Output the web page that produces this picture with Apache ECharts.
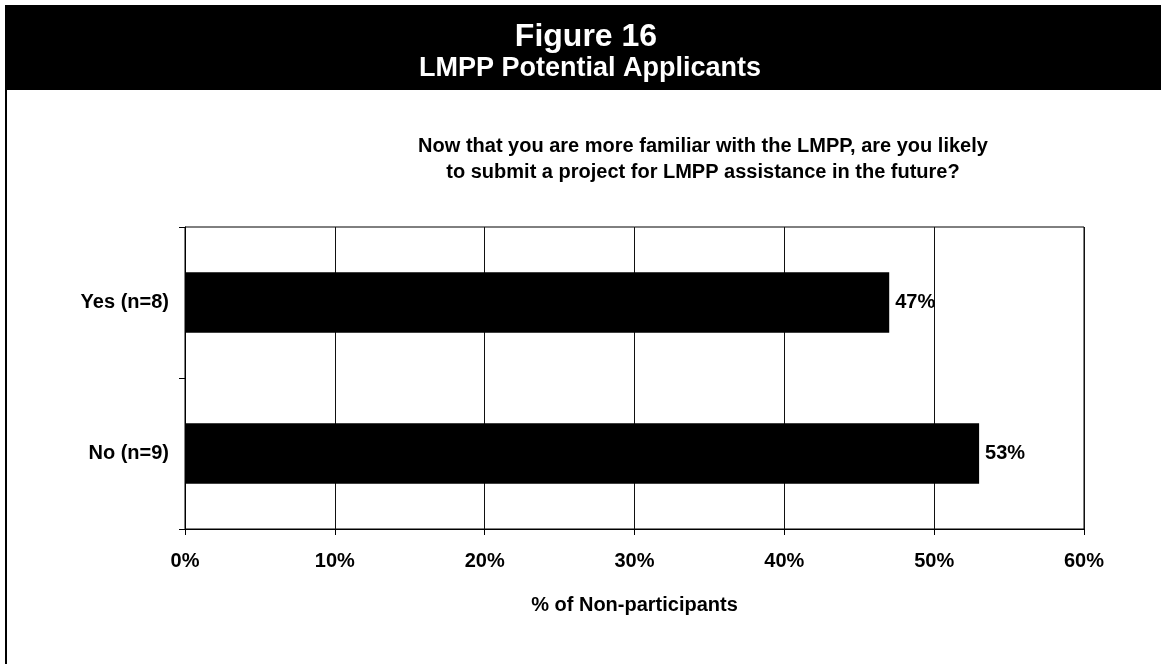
<!DOCTYPE html>
<html lang="en">
<head>
    <meta charset="UTF-8">
    <title>Figure 16</title>
    <script src="https://cdn.jsdelivr.net/npm/echarts@6/dist/echarts.min.js"></script>
    <style>
        * { margin: 0; padding: 0 }
        html, body { width: 100%; height: 100%; background: #fff; }
        #main { width: 1161px; height: 664px; }
    </style>
</head>
<body>
    <div id="main"></div>
    <script type="text/javascript">
        var categories = ['Yes (n=8)', 'No (n=9)'];
        var values = [47, 53];
        var xTicks = [0, 10, 20, 30, 40, 50, 60];

        var font = 'Liberation Sans, Arial, sans-serif';
        var myChart = echarts.init(document.getElementById('main'));

        var option = {
            backgroundColor: '#fff',
            textStyle: { fontFamily: font },
            graphic: [
                // black header band
                { type: 'rect', left: 5, top: 5, shape: { width: 1156, height: 85 }, style: { fill: '#000' } },
                // left frame line
                { type: 'rect', left: 5, top: 90, shape: { width: 2, height: 574 }, style: { fill: '#000' } }
            ],
            title: [
                {
                    text: 'Figure 16',
                    left: 581, top: 16, textAlign: 'center',
                    textStyle: { color: '#fff', fontSize: 32, fontWeight: 'bold', fontFamily: font }
                },
                {
                    text: 'LMPP Potential Applicants',
                    left: 585, top: 50, textAlign: 'center',
                    textStyle: { color: '#fff', fontSize: 27, fontWeight: 'bold', fontFamily: font }
                },
                {
                    text: 'Now that you are more familiar with the LMPP, are you likely\nto submit a project for LMPP assistance in the future?',
                    left: 698, top: 128, textAlign: 'center',
                    textStyle: { color: '#000', fontSize: 20, fontWeight: 'bold', lineHeight: 26, fontFamily: font }
                }
            ],
            grid: {
                left: 185, right: 77, top: 227, height: 302,
                show: true, borderColor: '#000', borderWidth: 1, backgroundColor: '#fff'
            },
            xAxis: {
                type: 'value',
                min: xTicks[0],
                max: xTicks[xTicks.length - 1],
                interval: 10,
                name: '% of Non-participants',
                nameLocation: 'middle',
                nameGap: 66,
                nameTextStyle: { fontSize: 20, fontWeight: 'bold', color: '#000', fontFamily: font },
                axisLine: { show: true, lineStyle: { color: '#000', width: 1 } },
                axisTick: { show: true, length: 6, lineStyle: { color: '#000' } },
                splitLine: { show: true, lineStyle: { color: '#111', width: 1 } },
                axisLabel: {
                    formatter: '{value}%', margin: 22,
                    fontSize: 20, fontWeight: 'bold', color: '#000', fontFamily: font
                }
            },
            yAxis: {
                type: 'category',
                data: categories,
                inverse: true,
                axisLine: { show: true, lineStyle: { color: '#000', width: 1 } },
                axisTick: { show: true, length: 6, lineStyle: { color: '#000' } },
                axisLabel: { margin: 16, fontSize: 20, fontWeight: 'bold', color: '#000', fontFamily: font }
            },
            series: [
                {
                    type: 'bar',
                    data: values,
                    barCategoryGap: '60%',
                    itemStyle: { color: '#000' },
                    label: {
                        show: true, position: 'right', distance: 6,
                        formatter: '{c}%',
                        fontSize: 20, fontWeight: 'bold', color: '#000', fontFamily: font
                    }
                }
            ]
        };

        myChart.setOption(option);
    </script>
</body>
</html>
